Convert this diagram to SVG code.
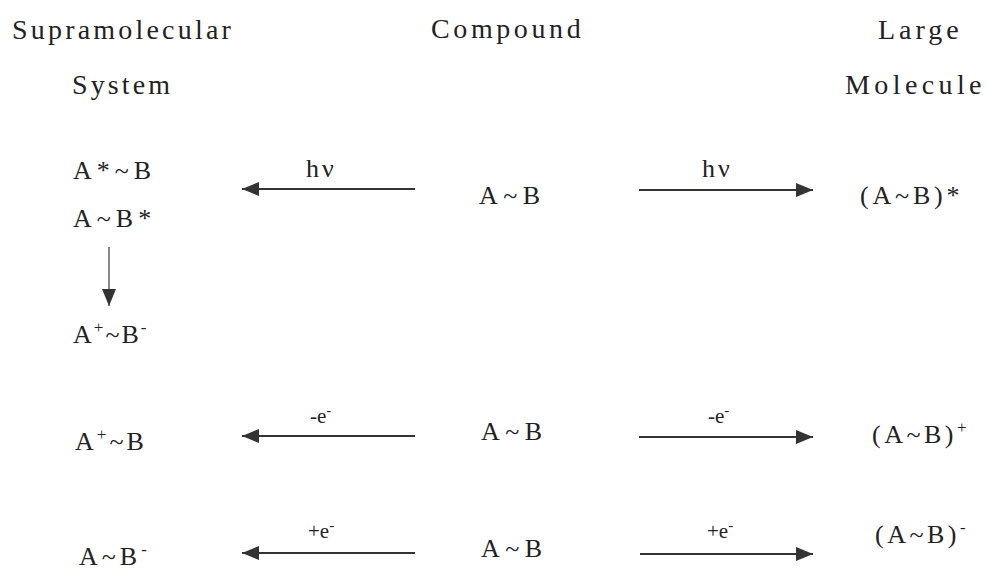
<svg xmlns="http://www.w3.org/2000/svg" width="988" height="570" viewBox="0 0 988 570">
<defs>
<marker id="ah" markerUnits="userSpaceOnUse" markerWidth="18" markerHeight="16" refX="17" refY="8" orient="auto">
<path d="M0,1 L17,8 L0,15 z" fill="#333"/>
</marker>
</defs>
<rect width="988" height="570" fill="#fff"/>
<g id="headers">
<text x="12" y="39" font-family="Liberation Serif" font-size="28" letter-spacing="3.2" fill="#222">Supramolecular</text>
<text x="72" y="94" font-family="Liberation Serif" font-size="28" letter-spacing="3.1" fill="#222">System</text>
<text x="431" y="38" font-family="Liberation Serif" font-size="28" letter-spacing="3.6" fill="#222">Compound</text>
<text x="878" y="39" font-family="Liberation Serif" font-size="28" letter-spacing="4" fill="#222">Large</text>
<text x="845" y="94" font-family="Liberation Serif" font-size="28" letter-spacing="4.4" fill="#222">Molecule</text>
</g>
<g id="supra">
<g id="n-a-star-b"><text x="73" y="179" font-family="Liberation Serif" font-size="26" letter-spacing="5" fill="#222">A*~B</text></g>
<g id="n-a-b-star"><text x="73" y="227" font-family="Liberation Serif" font-size="26" letter-spacing="5" fill="#222">A~B*</text></g>
<g id="n-cs"><text x="73" y="343" font-family="Liberation Serif" font-size="26" letter-spacing="2" fill="#222">A<tspan font-size="17" dy="-10">+</tspan><tspan dy="10">~B</tspan><tspan font-size="17" dy="-10">-</tspan></text></g>
<g id="n-ox"><text x="75" y="450" font-family="Liberation Serif" font-size="26" letter-spacing="3" fill="#222">A<tspan font-size="17" dy="-10">+</tspan><tspan dy="10">~B</tspan></text></g>
<g id="n-red"><text x="79" y="565" font-family="Liberation Serif" font-size="26" letter-spacing="4" fill="#222">A~B<tspan font-size="17" dy="-10">-</tspan></text></g>
</g>
<g id="compound">
<g id="c1"><text x="479" y="204" font-family="Liberation Serif" font-size="26" letter-spacing="5.5" fill="#222">A~B</text></g>
<g id="c2"><text x="481" y="440" font-family="Liberation Serif" font-size="26" letter-spacing="5.5" fill="#222">A~B</text></g>
<g id="c3"><text x="481" y="557" font-family="Liberation Serif" font-size="26" letter-spacing="5.5" fill="#222">A~B</text></g>
</g>
<g id="large">
<g id="m1"><text x="860" y="204" font-family="Liberation Serif" font-size="26" letter-spacing="3.8" fill="#222">(A~B)*</text></g>
<g id="m2"><text x="872" y="443" font-family="Liberation Serif" font-size="26" letter-spacing="3.5" fill="#222">(A~B)<tspan font-size="17" dy="-10">+</tspan></text></g>
<g id="m3"><text x="875" y="543" font-family="Liberation Serif" font-size="26" letter-spacing="3.5" fill="#222">(A~B)<tspan font-size="17" dy="-10">-</tspan></text></g>
</g>
<g id="connectors" stroke="#333" stroke-width="2" fill="none">
<line x1="415" y1="189" x2="242" y2="189" marker-end="url(#ah)"/>
<line x1="639" y1="190" x2="813" y2="190" marker-end="url(#ah)"/>
<line x1="109" y1="247" x2="109" y2="306" stroke="#888" marker-end="url(#ah)"/>
<line x1="415" y1="436" x2="242" y2="436" marker-end="url(#ah)"/>
<line x1="639" y1="437" x2="813" y2="437" marker-end="url(#ah)"/>
<line x1="415" y1="553" x2="242" y2="553" marker-end="url(#ah)"/>
<line x1="640" y1="554" x2="813" y2="554" marker-end="url(#ah)"/>
</g>
<g id="connector-labels" font-family="Liberation Serif" fill="#222">
<text x="306" y="177" font-size="26" letter-spacing="3">hν</text>
<text x="702" y="177" font-size="26" letter-spacing="3">hν</text>
<text x="310" y="423" font-size="21">-e<tspan font-size="15" dy="-8">-</tspan></text>
<text x="708" y="423" font-size="21">-e<tspan font-size="15" dy="-8">-</tspan></text>
<text x="308" y="538" font-size="21">+e<tspan font-size="15" dy="-8">-</tspan></text>
<text x="707" y="538" font-size="21">+e<tspan font-size="15" dy="-8">-</tspan></text>
</g>
</svg>
